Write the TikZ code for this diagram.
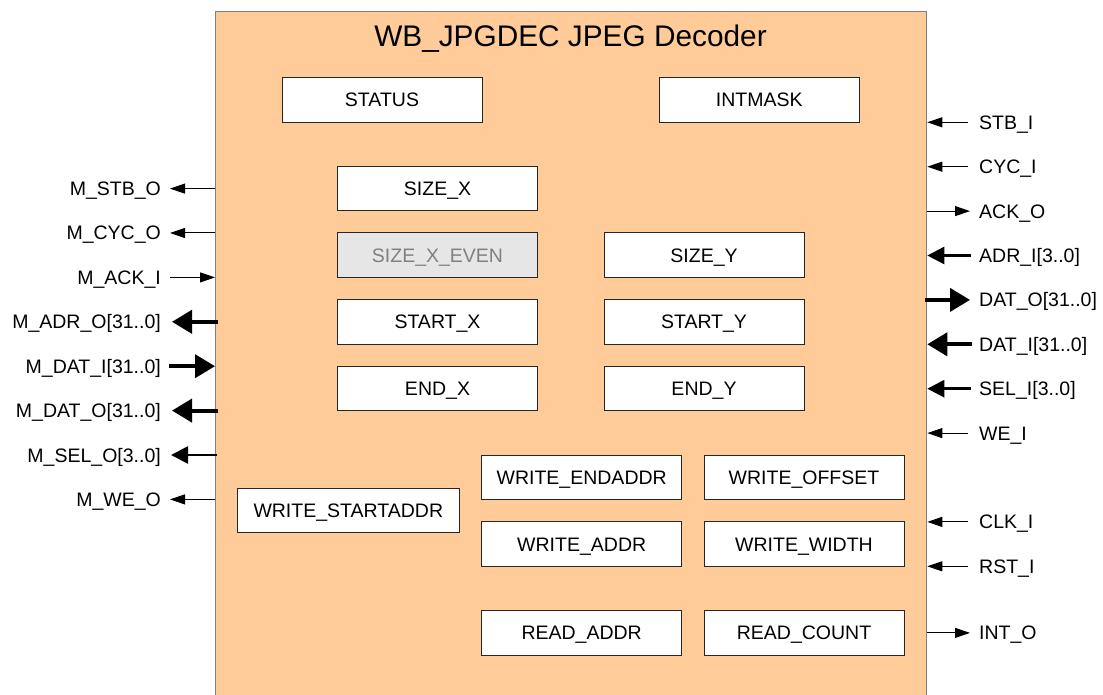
\documentclass[tikz,border=0pt]{standalone}
\usepackage{fontspec}
\setmainfont{Liberation Sans}
\usetikzlibrary{arrows.meta}
\definecolor{decfill}{RGB}{255,204,153}
\definecolor{decedge}{RGB}{128,128,128}
\definecolor{unusedfill}{RGB}{230,230,230}
\definecolor{unusedtext}{RGB}{128,128,128}
\begin{document}
\begin{tikzpicture}[x=1pt,y=-1pt,
  lbl/.style={font=\fontsize{19.5}{23}\selectfont},
  reg/.style={lbl, draw=black!85, fill=white, line width=0.9pt,
    minimum width=200pt, minimum height=44.5pt, inner sep=0pt,
    text height=14pt, text depth=0pt},
  port/.style={lbl, inner sep=0pt, text height=14pt, text depth=0pt},
  lport/.style={port, anchor=east},
  rport/.style={port, anchor=west},
  sigarrow/.style={line width=1pt, -{Triangle[length=15pt,width=10pt]}},
  busarrow/.style={line width=2.6pt, -{Triangle[length=17pt,width=17pt]}},
  widearrow/.style={line width=4pt, -{Triangle[length=20pt,width=23pt]}},
]
\useasboundingbox (0,0) rectangle (1103,695);
\clip (0,0) rectangle (1103,695);

% decoder block (runs off the bottom edge)
\node[draw=decedge, fill=decfill, line width=1.3pt, inner sep=0pt,
  minimum width=711pt, minimum height=720pt, anchor=north west] (dec) at (215,10.7) {};
\node[font=\fontsize{29.8}{34}\selectfont, anchor=base] (title) at (570.5,46.5)
  {WB\_JPGDEC JPEG Decoder};

% registers
\node[reg] (status)  at (382,100)     {STATUS};
\node[reg] (intmask) at (759.3,99.8)  {INTMASK};
\node[reg] (sizex)   at (437.5,188.5) {SIZE\_X};
\node[reg, fill=unusedfill, text=unusedtext] (sizexeven) at (437.5,255) {SIZE\_X\_EVEN};
\node[reg] (sizey)   at (704,255)     {SIZE\_Y};
\node[reg] (startx)  at (437.5,321.7) {START\_X};
\node[reg] (starty)  at (704,321.7)   {START\_Y};
\node[reg] (endx)    at (437.5,388.4) {END\_X};
\node[reg] (endy)    at (704,388.4)   {END\_Y};
\node[reg, minimum width=222pt] (wstart) at (348.3,510.5) {WRITE\_STARTADDR};
\node[reg] (wend)    at (581.7,477.2) {WRITE\_ENDADDR};
\node[reg] (woffset) at (804,477.2)   {WRITE\_OFFSET};
\node[reg] (waddr)   at (581.7,544)   {WRITE\_ADDR};
\node[reg] (wwidth)  at (804,544)     {WRITE\_WIDTH};
\node[reg] (raddr)   at (581.7,632.7) {READ\_ADDR};
\node[reg] (rcount)  at (804,632.7)   {READ\_COUNT};

% master port (left)
\node[lport] (mstbo) at (161,188.6) {M\_STB\_O};
\node[lport] (mcyco) at (161,233.0) {M\_CYC\_O};
\node[lport] (macki) at (161,277.4) {M\_ACK\_I};
\node[lport] (madro) at (161,321.8) {M\_ADR\_O[31..0]};
\node[lport] (mdati) at (161,366.2) {M\_DAT\_I[31..0]};
\node[lport] (mdato) at (161,410.6) {M\_DAT\_O[31..0]};
\node[lport] (mselo) at (161,455.0) {M\_SEL\_O[3..0]};
\node[lport] (mweo)  at (161,499.4) {M\_WE\_O};

\draw[sigarrow]  (dec.west |- mstbo) -- ([xshift=9pt]mstbo.east);
\draw[sigarrow]  (dec.west |- mcyco) -- ([xshift=9pt]mcyco.east);
\draw[sigarrow]  ([xshift=9pt]macki.east) -- (dec.west |- macki);
\draw[widearrow] ([xshift=3pt]dec.west |- madro) -- ([xshift=11pt]madro.east);
\draw[widearrow] ([xshift=8pt]mdati.east) -- (dec.west |- mdati);
\draw[widearrow] ([xshift=3pt]dec.west |- mdato) -- ([xshift=11pt]mdato.east);
\draw[busarrow]  ([xshift=2pt]dec.west |- mselo) -- ([xshift=10pt]mselo.east);
\draw[sigarrow]  (dec.west |- mweo) -- ([xshift=9pt]mweo.east);

% slave port (right)
\node[rport] (stbi) at (979,122.3) {STB\_I};
\node[rport] (cyci) at (979,166.7) {CYC\_I};
\node[rport] (acko) at (979,211.1) {ACK\_O};
\node[rport] (adri) at (979,255.5) {ADR\_I[3..0]};
\node[rport] (dato) at (979,299.9) {DAT\_O[31..0]};
\node[rport] (dati) at (979,344.3) {DAT\_I[31..0]};
\node[rport] (seli) at (979,388.7) {SEL\_I[3..0]};
\node[rport] (wei)  at (979,433.1) {WE\_I};
\node[rport] (clki) at (979,521.9) {CLK\_I};
\node[rport] (rsti) at (979,566.3) {RST\_I};
\node[rport] (into) at (979,632.9) {INT\_O};

\draw[sigarrow]  ([xshift=-11pt]stbi.west) -- (dec.east |- stbi);
\draw[sigarrow]  ([xshift=-11pt]cyci.west) -- (dec.east |- cyci);
\draw[sigarrow]  (dec.east |- acko) -- ([xshift=-9pt]acko.west);
\draw[busarrow]  ([xshift=-8pt]adri.west) -- (dec.east |- adri);
\draw[widearrow] ([xshift=-2pt]dec.east |- dato) -- ([xshift=-9pt]dato.west);
\draw[widearrow] ([xshift=-7pt]dati.west) -- (dec.east |- dati);
\draw[busarrow]  ([xshift=-8pt]seli.west) -- (dec.east |- seli);
\draw[sigarrow]  ([xshift=-11pt]wei.west) -- (dec.east |- wei);
\draw[sigarrow]  ([xshift=-11pt]clki.west) -- (dec.east |- clki);
\draw[sigarrow]  ([xshift=-11pt]rsti.west) -- (dec.east |- rsti);
\draw[sigarrow]  (dec.east |- into) -- ([xshift=-9pt]into.west);
\end{tikzpicture}
\end{document}
